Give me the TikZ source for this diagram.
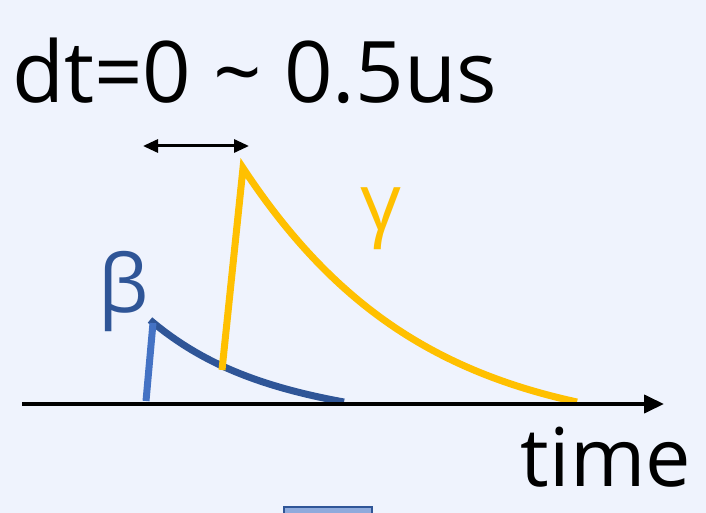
\documentclass[tikz,border=0pt]{standalone}
\usepackage{fontspec}
\setmainfont{Open Sans}
\usetikzlibrary{arrows.meta}
\definecolor{bgblue}{RGB}{239,243,253}
\definecolor{gold}{RGB}{255,192,0}
\definecolor{darkblue}{RGB}{47,85,151}
\definecolor{midblue}{RGB}{68,114,196}
\definecolor{paleblue}{RGB}{143,170,220}
\tikzset{
  lbl/.style={inner sep=0pt, font=\fontsize{80}{90}\selectfont},
  pulse/.style={line width=7pt},
}
\begin{document}
\begin{tikzpicture}[x=1pt,y=-1pt]
\fill[bgblue] (0,0) rectangle (706,513);
\useasboundingbox (0,0) rectangle (706,513);

\node[lbl, anchor=base west, font=\fontsize{85}{95}\selectfont] (dt) at (12,103) {dt=0 \textasciitilde{} 0.5us};
\node[lbl, anchor=base east, font=\fontsize{81}{91}\selectfont] (time) at (691,486) {time};
\node[lbl, anchor=base, text=gold] (gam) at (381,230) {γ};
\node[lbl, anchor=base, text=darkblue] (bet) at (124,312) {β};

\coordinate (dl) at (143,146);
\coordinate (dr) at (249,146);
\coordinate (ax0) at (22,404);
\coordinate (ax1) at (664,404);

\draw[line width=3pt, {Triangle[length=15pt,width=13pt]}-{Triangle[length=15pt,width=13pt]}] (dl) -- (dr);

\draw[pulse, darkblue] (150,320) .. controls (195,358) and (250,385) .. (344,402);
\draw[pulse, midblue] (146,401) -- (153,323);

\draw[pulse, gold, line join=miter] (222,370) -- (243,168) .. controls (330,300) and (430,370) .. (577,402);

\draw[line width=4pt, -{Triangle[length=20pt,width=18pt]}] (ax0) -- (ax1);

\draw[line width=2.5pt, darkblue, fill=paleblue] (284,507) rectangle (372,530);
\end{tikzpicture}
\end{document}
